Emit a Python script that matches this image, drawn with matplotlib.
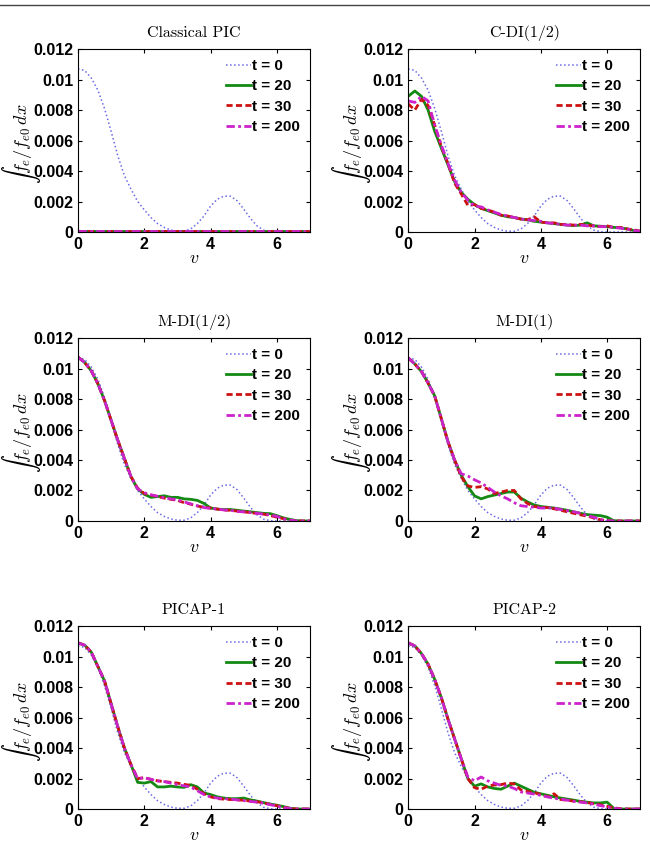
import matplotlib
matplotlib.use('Agg')
from matplotlib import pyplot
from matplotlib.lines import Line2D
import numpy as np

# velocity grid shared by every curve
V = [0.0, 0.2, 0.4, 0.6, 0.8, 1.0, 1.2, 1.4, 1.6, 1.8, 2.0, 2.2, 2.4, 2.6,
     2.8, 3.0, 3.2, 3.4, 3.6, 3.8, 4.0, 4.2, 4.4, 4.6, 4.8, 5.0, 5.2, 5.4,
     5.6, 5.8, 6.0, 6.2, 6.4, 6.6, 6.8, 7.0]

# all values below in units of 1e-3
T0 = [10.7, 10.6, 10.1, 9.3, 8.1, 6.6, 5.0, 3.7, 2.8, 2.0, 1.45, 0.95, 0.55,
      0.3, 0.13, 0.05, 0.05, 0.2, 0.55, 1.05, 1.7, 2.15, 2.35, 2.35, 2.05,
      1.5, 0.9, 0.4, 0.12, 0.02, 0, 0, 0, 0, 0, 0]

PIC_20 = [0.05] * 36
PIC_30 = [0.05] * 36
PIC_200 = [0.05] * 36

CDI_20 = [8.9, 9.25, 8.9, 8.0, 6.6, 5.5, 4.4, 3.3, 2.6, 2.15, 1.8, 1.55,
          1.4, 1.25, 1.1, 1.0, 0.95, 0.85, 0.8, 0.7, 0.65, 0.6, 0.55, 0.5,
          0.45, 0.42, 0.45, 0.6, 0.4, 0.38, 0.35, 0.3, 0.28, 0.2, 0.1, 0.05]
CDI_30 = [8.4, 8.0, 8.7, 8.3, 7.0, 5.6, 4.5, 3.2, 2.5, 1.75, 1.8, 1.55,
          1.45, 1.3, 1.1, 1.05, 0.95, 0.85, 0.8, 1.0, 0.65, 0.6, 0.6, 0.5,
          0.5, 0.45, 0.5, 0.45, 0.4, 0.35, 0.4, 0.3, 0.3, 0.2, 0.15, 0.05]
CDI_200 = [8.6, 8.5, 8.9, 8.6, 7.0, 5.7, 4.5, 3.4, 2.6, 2.1, 1.7, 1.65,
           1.45, 1.3, 1.15, 1.05, 0.95, 0.85, 0.8, 0.75, 0.7, 0.6, 0.55, 0.5,
           0.45, 0.45, 0.45, 0.4, 0.4, 0.35, 0.35, 0.3, 0.25, 0.2, 0.1, 0.05]

MDI2_20 = [10.75, 10.4, 9.85, 9.0, 7.9, 6.6, 5.3, 4.1, 2.9, 2.1, 1.75, 1.55,
           1.6, 1.65, 1.55, 1.55, 1.45, 1.42, 1.35, 1.15, 0.85, 0.78, 0.75,
           0.75, 0.7, 0.65, 0.6, 0.55, 0.5, 0.48, 0.35, 0.2, 0.1, 0.02, 0, 0]
MDI2_30 = [10.75, 10.4, 9.85, 9.0, 7.9, 6.6, 5.3, 4.1, 2.9, 2.15, 1.8, 1.7,
           1.6, 1.5, 1.42, 1.35, 1.2, 1.1, 0.98, 0.9, 0.85, 0.78, 0.72, 0.7,
           0.65, 0.6, 0.55, 0.5, 0.45, 0.35, 0.25, 0.15, 0.05, 0, 0, 0]
MDI2_200 = [10.75, 10.4, 9.85, 9.0, 7.9, 6.6, 5.3, 4.1, 2.9, 2.1, 1.85,
            1.72, 1.62, 1.52, 1.45, 1.38, 1.25, 1.12, 1.0, 0.88, 0.82, 0.78,
            0.72, 0.7, 0.62, 0.6, 0.55, 0.5, 0.45, 0.4, 0.3, 0.15, 0.05, 0,
            0, 0]

MDI1_20 = [10.7, 10.3, 9.8, 9.05, 8.2, 6.7, 5.2, 4.0, 3.0, 2.25, 1.65, 1.45,
           1.6, 1.7, 1.8, 1.9, 1.9, 1.5, 1.25, 1.05, 0.95, 0.9, 0.85, 0.78,
           0.7, 0.6, 0.5, 0.42, 0.38, 0.35, 0.25, 0.02, 0, 0, 0, 0]
MDI1_30 = [10.7, 10.3, 9.8, 9.05, 8.2, 6.7, 5.2, 4.0, 2.9, 2.3, 2.2, 2.25,
           2.1, 1.8, 1.9, 2.0, 2.0, 1.45, 1.15, 0.95, 0.9, 0.88, 0.8, 0.7,
           0.6, 0.5, 0.4, 0.32, 0.2, 0.08, 0, 0, 0, 0, 0, 0]
MDI1_200 = [10.7, 10.3, 9.8, 9.05, 8.2, 6.7, 5.2, 4.0, 3.1, 2.95, 2.7, 2.5,
            2.2, 1.9, 1.65, 1.45, 1.2, 1.0, 0.95, 0.9, 0.85, 0.85, 0.85,
            0.75, 0.68, 0.6, 0.5, 0.35, 0.25, 0.1, 0.02, 0, 0, 0, 0, 0]

PICAP1_20 = [10.9, 10.75, 10.3, 9.35, 8.4, 6.9, 5.4, 4.0, 2.9, 1.75, 1.7,
             1.8, 1.45, 1.45, 1.5, 1.45, 1.42, 1.6, 1.45, 1.05, 0.95, 0.8,
             0.72, 0.68, 0.68, 0.72, 0.6, 0.52, 0.42, 0.33, 0.25, 0.16, 0.05,
             0, 0, 0]
PICAP1_30 = [10.9, 10.75, 10.3, 9.35, 8.4, 6.9, 5.4, 4.0, 2.9, 2.0, 2.05,
             1.95, 1.85, 1.8, 1.75, 1.7, 1.62, 1.55, 1.3, 1.0, 0.8, 0.68,
             0.65, 0.62, 0.6, 0.58, 0.52, 0.48, 0.4, 0.3, 0.22, 0.12, 0.04,
             0, 0, 0]
PICAP1_200 = [10.9, 10.75, 10.3, 9.35, 8.4, 6.9, 5.4, 4.0, 2.9, 2.0, 2.05,
              1.95, 1.85, 1.8, 1.7, 1.6, 1.52, 1.45, 1.2, 0.95, 0.8, 0.72,
              0.68, 0.65, 0.6, 0.55, 0.5, 0.45, 0.38, 0.28, 0.2, 0.1, 0.03,
              0, 0, 0]

PICAP2_20 = [10.9, 10.7, 10.2, 9.5, 8.5, 7.3, 5.9, 4.6, 3.3, 2.0, 1.5, 1.65,
             1.45, 1.35, 1.3, 1.5, 1.7, 1.5, 1.3, 1.1, 1.0, 0.9, 0.8, 0.72,
             0.65, 0.58, 0.5, 0.45, 0.4, 0.4, 0.45, 0.05, 0, 0, 0, 0]
PICAP2_30 = [10.9, 10.7, 10.2, 9.5, 8.5, 7.3, 5.9, 4.6, 3.3, 2.0, 1.4, 1.3,
             1.5, 1.58, 1.6, 1.7, 1.65, 1.25, 1.15, 1.08, 0.95, 0.8, 1.0,
             0.62, 0.58, 0.52, 0.48, 0.42, 0.35, 0.28, 0.18, 0.08, 0.02, 0,
             0, 0]
PICAP2_200 = [10.9, 10.7, 10.2, 9.5, 8.5, 7.3, 5.9, 4.6, 3.3, 2.1, 1.85, 2.1,
              1.85, 1.7, 1.55, 1.5, 1.35, 1.12, 1.05, 0.98, 0.9, 0.8, 0.7,
              0.65, 0.58, 0.5, 0.45, 0.4, 0.32, 0.22, 0.14, 0.05, 0, 0, 0, 0]

TITLES = ['Classical PIC', 'C-DI(1/2)', 'M-DI(1/2)', 'M-DI(1)',
          'PICAP-1', 'PICAP-2']
SERIES = [(PIC_20, PIC_30, PIC_200), (CDI_20, CDI_30, CDI_200),
          (MDI2_20, MDI2_30, MDI2_200), (MDI1_20, MDI1_30, MDI1_200),
          (PICAP1_20, PICAP1_30, PICAP1_200),
          (PICAP2_20, PICAP2_30, PICAP2_200)]
LABELS = ['t = 0', 't = 20', 't = 30', 't = 200']
YTICKS = [0, 0.002, 0.004, 0.006, 0.008, 0.01, 0.012]
YTICKLABELS = ['0', '0.002', '0.004', '0.006', '0.008', '0.01', '0.012']

pyplot.rcParams['mathtext.fontset'] = 'cm'

LEFTS = [0.12, 0.628]
BOTTOMS = [0.7248, 0.382, 0.0403]
W, H = 0.357, 0.217


def _plot_panel(fig, idx):
    '''Draws one panel.'''
    ax = fig.add_axes([LEFTS[idx % 2], BOTTOMS[idx // 2], W, H])
    v = np.array(V)
    s20, s30, s200 = SERIES[idx]
    ax.plot(v, np.array(T0) * 1e-3, ':', color='#6a6ae6', lw=1.1,
            label=LABELS[0])
    ax.plot(v, np.array(s20) * 1e-3, '-', color='#138a13', lw=2,
            label=LABELS[1])
    ax.plot(v, np.array(s30) * 1e-3, '--', color='#cc1111', lw=2,
            dashes=(2.2, 1.2), label=LABELS[2])
    ax.plot(v, np.array(s200) * 1e-3, '-.', color='#cc22cc', lw=2,
            dashes=(3, 1.2, 1, 1.2), label=LABELS[3])
    ax.set_xlim(0, 7)
    ax.set_ylim(0, 0.012)
    ax.set_xticks([0, 2, 4, 6])
    ax.set_xticklabels(['0', '2', '4', '6'])
    ax.set_yticks(YTICKS)
    ax.set_yticklabels(YTICKLABELS)
    ax.tick_params(direction='in', top=True, right=True, length=3,
                   pad=3.5, labelsize=11.5)
    for lab in ax.get_xticklabels() + ax.get_yticklabels():
        lab.set_fontweight('bold')
        lab.set_family('Liberation Sans')
    for sp in ax.spines.values():
        sp.set_linewidth(0.8)
    ax.set_title(TITLES[idx], family='cmr10', fontsize=11.5, pad=9)
    ax.set_xlabel(r'$v$', fontsize=13, labelpad=-2)
    ax.set_ylabel(r'$\int f_e/f_{e0}\,dx$', fontsize=13)
    ax.yaxis.set_label_coords(-0.15, 0.48)
    ax.legend(loc='upper right', frameon=False, handlelength=1.6,
              handletextpad=0.1, labelspacing=0.42, borderaxespad=0.25,
              prop={'family': 'Liberation Sans', 'weight': 'bold',
                    'size': 11})
    return ax


def main():
    '''main method.'''
    fig = pyplot.figure(figsize=(6.5, 8.43), dpi=100)
    fig.add_artist(Line2D([0, 1], [1 - 5.0 / 843] * 2,
                          transform=fig.transFigure, color='#444444', lw=1))
    for idx in range(6):
        _plot_panel(fig, idx)
    fig.savefig('out.png', dpi=100)


if __name__ == '__main__':
    main()
